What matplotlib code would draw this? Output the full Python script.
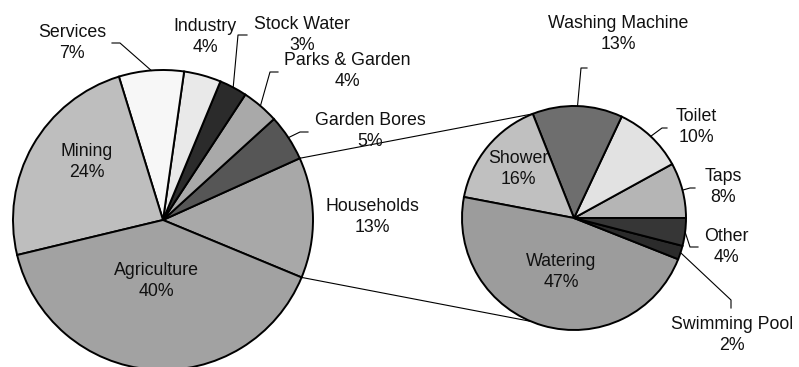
import matplotlib
matplotlib.use("Agg")
import matplotlib.pyplot as plt
import numpy as np

# main pie: water use by sector (%)
sectors = ["Households", "Garden Bores", "Parks & Garden", "Stock Water",
           "Industry", "Services", "Mining", "Agriculture"]
sector_pct = [13, 5, 4, 3, 4, 7, 24, 40]
sector_colors = ["#a8a8a8", "#565656", "#a9a9a9", "#2b2b2b",
                 "#e9e9e9", "#f7f7f7", "#bebebe", "#a2a2a2"]

# secondary pie: breakdown of household use (%)
house_uses = ["Taps", "Toilet", "Washing Machine", "Shower",
              "Watering", "Swimming Pool", "Other"]
house_pct = [8, 10, 13, 16, 47, 2, 4]
house_colors = ["#b5b5b5", "#e2e2e2", "#6e6e6e", "#c0c0c0",
                "#9c9c9c", "#2b2b2b", "#363636"]

W, H = 799, 367

def P(x, y):
    # pixel coords (top-left origin) -> data coords
    return x, H - y

plt.rcParams['font.family'] = ['Liberation Sans', 'DejaVu Sans']

fig = plt.figure(figsize=(W / 100, H / 100), dpi=100)
ax = fig.add_axes([0, 0, 1, 1])

# layout
c1, r1, start1 = P(163, 220), 150, -22.5
c2, r2, start2 = P(574, 218), 112, 0.0

edge = dict(edgecolor="black", linewidth=1.4)
w1, _ = ax.pie(sector_pct, colors=sector_colors, startangle=start1,
               counterclock=True, center=c1, radius=r1, wedgeprops=edge)
w2, _ = ax.pie(house_pct, colors=house_colors, startangle=start2,
               counterclock=True, center=c2, radius=r2, wedgeprops=edge)

def on_edge(center, r, ang):
    a = np.deg2rad(ang)
    return center[0] + r * np.cos(a), center[1] + r * np.sin(a)

# connector lines between Households wedge and the secondary pie
hh = w1[sectors.index("Households")]
top_a, bot_a = hh.theta2, hh.theta1
edge_top = w2[house_uses.index("Shower")].theta1
for a_src, a_dst in [(top_a, edge_top), (bot_a, -edge_top - 1)]:
    x0, y0 = on_edge(c1, r1, a_src)
    x1, y1 = on_edge(c2, r2, a_dst)
    ax.plot([x0, x1], [y0, y1], color="black", lw=0.8, zorder=0)

# label positions (pixel) and optional leader elbows
label_pos1 = {"Households": (372, 217), "Garden Bores": (370, 131),
              "Parks & Garden": (347, 71), "Stock Water": (302, 35),
              "Industry": (205, 37), "Services": (72, 43),
              "Mining": (87, 162), "Agriculture": (156, 281)}
leaders1 = {"Garden Bores": [(300, 132), (308, 132)],
            "Parks & Garden": [(270, 72), (278, 72)],
            "Stock Water": [(238, 35), (247, 35)],
            "Services": [(120, 43), (112, 43)]}
label_pos2 = {"Taps": (723, 187), "Toilet": (696, 127),
              "Washing Machine": (618, 34), "Shower": (518, 169),
              "Watering": (561, 272), "Swimming Pool": (732, 335),
              "Other": (726, 247)}
leaders2 = {"Taps": [(690, 188), (695, 188)],
            "Toilet": [(662, 128), (667, 128)],
            "Washing Machine": [(581, 68), (587, 68)],
            "Other": [(690, 247), (698, 247)],
            "Swimming Pool": [(731, 300), (731, 308)]}

def annotate(wedges, names, pcts, center, r, pos, leaders):
    for w, name, p in zip(wedges, names, pcts):
        x, y = P(*pos[name])
        ax.text(x, y, f"{name}\n{p}%", ha="center", va="center",
                fontsize=12.8, linespacing=1.3, color="#111111")
        if name in leaders:
            mid = (w.theta1 + w.theta2) / 2
            pts = [on_edge(center, r, mid)] + [P(*q) for q in leaders[name]]
            xs, ys = zip(*pts)
            ax.plot(xs, ys, color="black", lw=0.8)

annotate(w1, sectors, sector_pct, c1, r1, label_pos1, leaders1)
annotate(w2, house_uses, house_pct, c2, r2, label_pos2, leaders2)

ax.set_xlim(0, W)
ax.set_ylim(0, H)
ax.set_aspect("equal")
ax.axis("off")

fig.savefig("out.png", dpi=100, facecolor="white")
